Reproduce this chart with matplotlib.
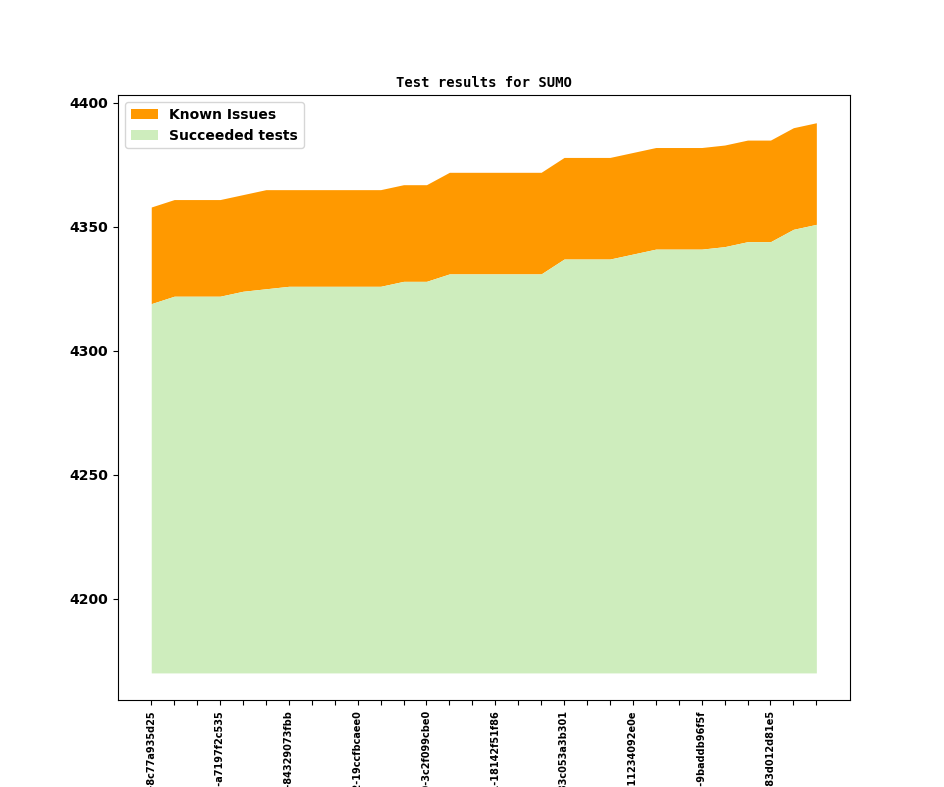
#!/usr/bin/env python3

import matplotlib
matplotlib.use("Agg")
import matplotlib.pyplot as plt


known = [4358, 4361, 4361, 4361, 4363, 4365, 4365, 4365, 4365, 4365,
         4365, 4367, 4367, 4372, 4372, 4372, 4372, 4372, 4378, 4378,
         4378, 4380, 4382, 4382, 4382, 4383, 4385, 4385, 4390, 4392]
succeeded = [4319, 4322, 4322, 4322, 4324, 4325, 4326, 4326, 4326, 4326,
             4326, 4328, 4328, 4331, 4331, 4331, 4331, 4331, 4337, 4337,
             4337, 4339, 4341, 4341, 4341, 4342, 4344, 4344, 4349, 4351]
base = 4170
labels = ["v1_19_0+0123-8c77a935d25", "v1_19_0+0131-a7197f2c535",
          "v1_19_0+0140-84329073fbb", "v1_19_0+0152-19ccfbcaee0",
          "v1_19_0+0160-3c2f099cbe0", "v1_19_0+0171-18142f51f86",
          "v1_19_0+0183c053a3b301", "v1_19_0+01911234092e0e",
          "v1_19_0+0203-9baddb96f5f", "v1_19_0+021483d012d81e5"]

x = list(range(len(known)))

fig, ax = plt.subplots(figsize=(9.44, 7.87), dpi=100)
ax.fill_between(x, succeeded, known, color="#ff9900", linewidth=0,
                label="Known Issues")
ax.fill_between(x, base, succeeded, color="#ceedbd", linewidth=0,
                label="Succeeded tests")
ax.set_title("Test results for SUMO", family="monospace",
             fontweight="bold", fontsize=10)
ax.set_xticks(x)
ax.set_xticklabels([labels[i // 3] if i % 3 == 0 else "" for i in x],
                   rotation=90, fontsize=7, fontweight="bold")
for t in ax.get_yticklabels():
    t.set_fontweight("bold")
ax.legend(loc="upper left", prop={"weight": "bold", "size": 10})
plt.subplots_adjust(left=0.125, right=0.9, top=0.879, bottom=0.11)
plt.savefig("out.png")
